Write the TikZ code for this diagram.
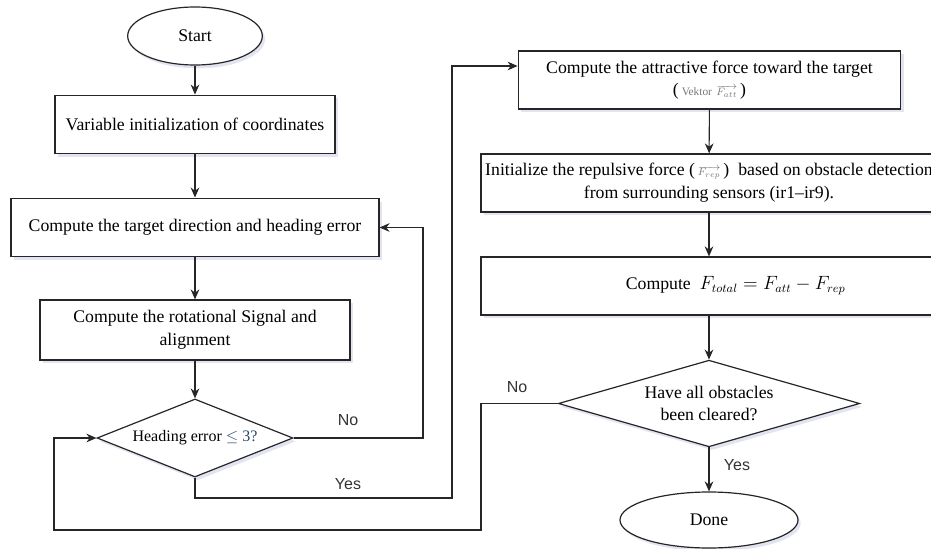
\documentclass[tikz,border=0pt]{standalone}
\usepackage{fontspec}
\setmainfont{Liberation Serif}
\newfontfamily\lblfont{Liberation Sans}
\usetikzlibrary{shapes.geometric,arrows.meta,shadows}
\definecolor{shade}{RGB}{140,150,200}
\definecolor{condblue}{RGB}{40,70,110}
\definecolor{vgray}{RGB}{120,120,120}
\newcommand{\fvec}[1]{{\color{vgray}\fontsize{8.5}{10}\selectfont$\overrightarrow{F_{#1}}$}}

\begin{document}
\begin{tikzpicture}[x = 0.75pt, y = -0.75pt, font = \fontsize{13.3}{17}\selectfont,
  box/.style = {draw = black!85, fill = white, line width = 0.9pt, align = center,
    drop shadow = {shadow xshift = 2pt, shadow yshift = -2.5pt, fill = shade, opacity = 0.25}},
  term/.style = {box, ellipse, inner sep = 0pt},
  cond/.style = {box, diamond, inner sep = 0pt},
  arr/.style = {draw = black!85, line width = 0.8pt, -{Stealth[length = 7.5pt, width = 6.5pt]}},
  lbl/.style = {font = \lblfont\fontsize{12}{14}\selectfont, text = black!80}]
\useasboundingbox (0,0) rectangle (931,549);
\node[term, minimum width = 101pt, minimum height = 43.5pt] (start) at (195,36) {Start};
\node[box, minimum width = 210pt, minimum height = 44pt] (init) at (195,124.5) {Variable initialization of coordinates};
\node[box, minimum width = 276pt, minimum height = 44pt] (target) at (195,227.5) {Compute the target direction and heading error};
\node[box, minimum width = 232.5pt, minimum height = 45pt] (rot) at (195,330) {Compute the rotational Signal and\\alignment};
\node[cond, aspect = 2.5, minimum width = 147pt, minimum height = 58.5pt, font = \fontsize{12}{14}\selectfont] (head) at (195,438) {Heading error {\color{condblue}$\leq$ 3?}};
\node[box, minimum width = 287pt, minimum height = 43.5pt] (attr) at (709.5,80) {Compute the attractive force toward the target\\(\,{\color{vgray}\fontsize{8.5}{10}\selectfont Vektor}\ \fvec{att}\,)};
\node[box, inner xsep = 0pt, minimum width = 342pt, minimum height = 43.5pt] (rep) at (709,183) {Initialize the repulsive force (\,\fvec{rep}\,)\ \ based on obstacle detection\\from surrounding sensors (ir1--ir9).};
\node[box, minimum width = 342pt, minimum height = 43.5pt] (total) at (709,286) {\hspace*{40pt}Compute\ \ $F_{total} = F_{att} - F_{rep}$};
\node[cond, aspect = 3.5, minimum width = 226pt, minimum height = 65pt] (clear) at (709,403.5) {Have all obstacles\\been cleared?};
\node[term, minimum width = 133.5pt, minimum height = 42pt] (done) at (709,520) {Done};
\coordinate (nor) at (423,438);
\coordinate (yesx) at (452,498);
\coordinate (nox) at (481,530);
\coordinate (noy) at (54,530);
\draw[arr] (start) -- (init);
\draw[arr] (init) -- (target);
\draw[arr] (target) -- (rot);
\draw[arr] (rot) -- (head);
\draw[arr] (head.east) -- (nor) |- (target.east);
\draw[arr] (head.south) |- (yesx) |- ([yshift = 10.5pt]attr.west);
\draw[arr] (attr) -- (rep);
\draw[arr] (rep) -- (total);
\draw[arr] (total) -- (clear);
\draw[arr] (clear) -- (done);
\draw[arr] (clear.west) -| (nox) -- (noy) |- (head.west);
\node[lbl] (no1) at (348,420) {No};
\node[lbl] (yes1) at (348,484) {Yes};
\node[lbl] (no2) at (517,387) {No};
\node[lbl] (yes2) at (737,465) {Yes};
\end{tikzpicture}
\end{document}
